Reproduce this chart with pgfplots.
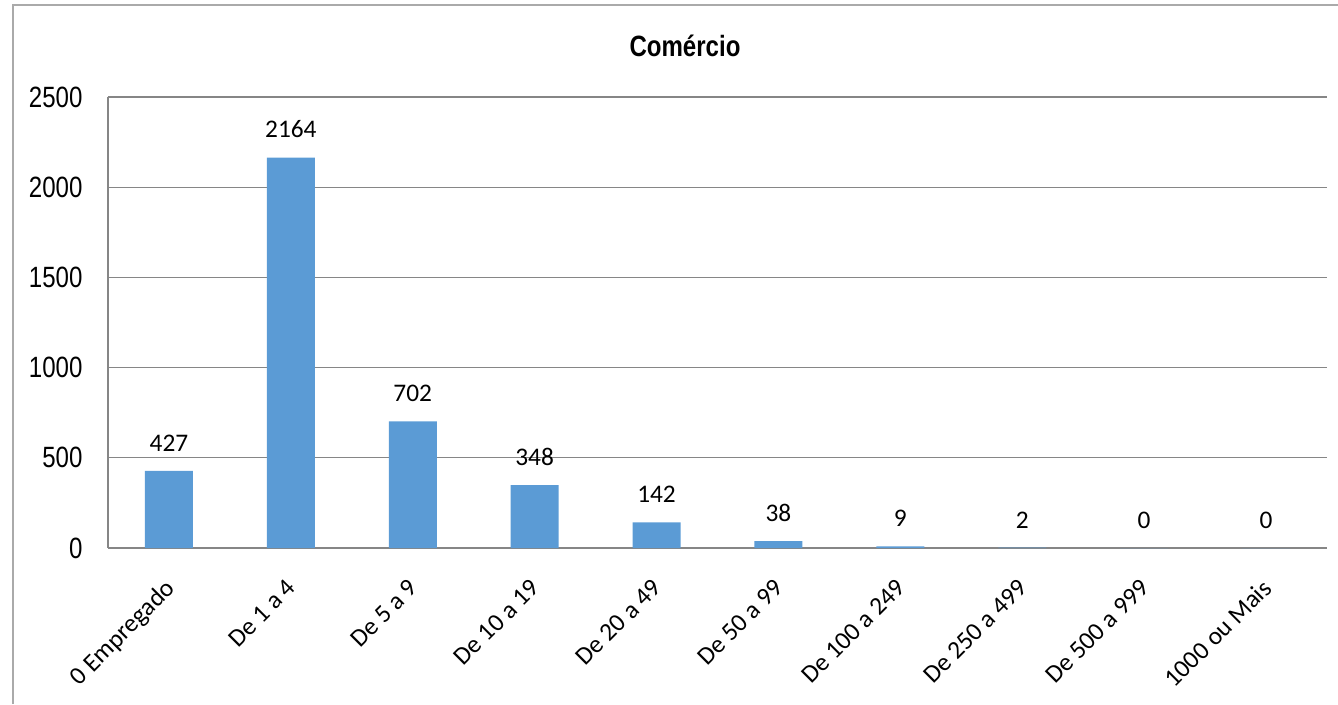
\documentclass[border=0pt]{standalone}
\usepackage{fontspec}
\setmainfont{Carlito}
\newfontfamily\narrowfont[FakeStretch=0.82]{Liberation Sans}
\usepackage{pgfplots}
\pgfplotsset{compat=1.18}
\definecolor{barblue}{RGB}{91,155,213}
\definecolor{axgray}{RGB}{134,134,134}
\definecolor{framegray}{RGB}{170,170,170}
\begin{document}
\begin{tikzpicture}[x=0.75pt,y=0.75pt]
\begin{axis}[
  scale only axis,
  width=914.25pt, height=338.25pt,
  ybar, bar width=36pt,
  ymin=0, ymax=2500, ytick={0,500,1000,1500,2000,2500},
  xmin=-0.5, xmax=9.5, xtick={0,...,9},
  xticklabels={0 Empregado, De 1 a 4, De 5 a 9, De 10 a 19, De 20 a 49, De 50 a 99, De 100 a 249, De 250 a 499, De 500 a 999, 1000 ou Mais},
  axis line style={axgray, line width=1.5pt},
  separate axis lines,
  x axis line style={-}, y axis line style={-},
  axis x line*=bottom, axis y line*=left,
  ymajorgrids, grid style={axgray, line width=0.9pt},
  major tick length=0pt,
  /pgf/number format/assume math mode=true,
  /pgf/number format/1000 sep={},
  yticklabel style={font=\fontsize{22}{26}\selectfont\narrowfont, inner sep=0pt, xshift=-19pt},
  xticklabel style={font=\fontsize{19}{23}\selectfont, xshift=-4pt, rotate=45, anchor=north east, inner sep=0pt},
  xticklabel shift=22pt,
  nodes near coords,
  nodes near coords style={font=\fontsize{19}{23}\selectfont, anchor=south, inner sep=0pt, yshift=14.5pt},
  clip=false,
]
\addplot[fill=barblue, draw=none] coordinates {
(0,427) (1,2164) (2,702) (3,348) (4,142) (5,38) (6,9) (7,2) (8,0) (9,0)};
\end{axis}
\useasboundingbox (-108,-156) rectangle (1230,548);
\draw[framegray, line width=1.5pt] (-94.5,-156) -- (-94.5,543) -- (1230,543);
\node[font=\fontsize{22}{26}\selectfont\narrowfont\bfseries] at (577,502) {Comércio};
\end{tikzpicture}
\end{document}
